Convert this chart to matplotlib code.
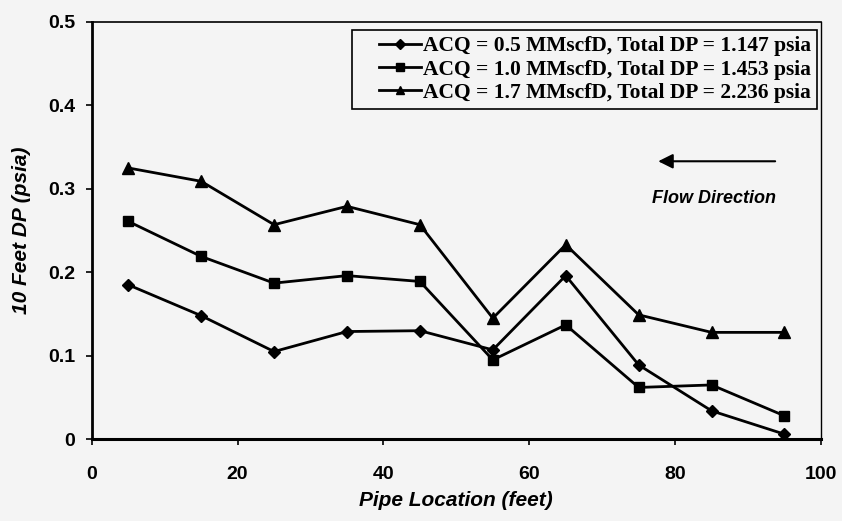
import numpy as np
import matplotlib
matplotlib.use('Agg')
import matplotlib.pyplot as plt
from matplotlib.legend_handler import HandlerLine2D

# pipe locations (feet) and 10 ft pressure drops (psia)
location = [5, 15, 25, 35, 45, 55, 65, 75, 85, 95]
dp_05 = [0.185, 0.148, 0.105, 0.129, 0.130, 0.107, 0.196, 0.089, 0.034, 0.006]
dp_10 = [0.261, 0.219, 0.187, 0.196, 0.189, 0.095, 0.137, 0.062, 0.065, 0.028]
dp_17 = [0.325, 0.309, 0.257, 0.279, 0.257, 0.145, 0.233, 0.149, 0.128, 0.128]
labels = ['ACQ = 0.5 MMscfD, Total DP = 1.147 psia',
          'ACQ = 1.0 MMscfD, Total DP = 1.453 psia',
          'ACQ = 1.7 MMscfD, Total DP = 2.236 psia']


class ShiftedLine(HandlerLine2D):
    # legend sample drawn in the right part of the handle box, leaving a gap on the left
    def get_xdata(self, legend, xdescent, ydescent, width, height, fontsize):
        x0 = -xdescent + width * 0.34
        x1 = -xdescent + width
        return np.array([x0, x1]), np.array([(x0 + x1) / 2])


bg = '#f4f4f4'
fig = plt.figure(figsize=(8.42, 5.21), dpi=100, facecolor=bg)
ax = fig.add_axes([0.109, 0.157, 0.866, 0.801], facecolor=bg)

l1, = ax.plot(location, dp_05, color='black', lw=2, marker='D', ms=6, label=labels[0])
l2, = ax.plot(location, dp_10, color='black', lw=2, marker='s', ms=7, label=labels[1])
l3, = ax.plot(location, dp_17, color='black', lw=2, marker='^', ms=8, label=labels[2])

ax.set_xlim(0, 100)
ax.set_ylim(0, 0.5)
ax.set_xticks([0, 20, 40, 60, 80, 100])
ax.set_yticks([0, 0.1, 0.2, 0.3, 0.4, 0.5])
ax.set_yticklabels(['0', '0.1', '0.2', '0.3', '0.4', '0.5'])
ax.tick_params(direction='out', length=4, width=1.2, labelsize=14)
ax.tick_params(axis='x', pad=15)
ax.tick_params(axis='y', pad=8)
for t in ax.get_xticklabels() + ax.get_yticklabels():
    t.set_fontweight('bold')
    t.set_family('Liberation Sans')

ax.spines['left'].set_linewidth(2)
ax.spines['bottom'].set_linewidth(2.2)
ax.spines['top'].set_linewidth(1.2)
ax.spines['right'].set_linewidth(1.0)

ax.set_xlabel('Pipe Location (feet)', fontsize=15, fontweight='bold',
              style='italic', family='Liberation Sans', labelpad=6)
ax.set_ylabel('10 Feet DP (psia)', fontsize=15, fontweight='bold',
              style='italic', family='Liberation Sans', labelpad=12)

hm = {l: ShiftedLine() for l in (l1, l2, l3)}
leg = ax.legend(loc='upper right', bbox_to_anchor=(0.995, 0.981), fancybox=False,
                edgecolor='black', facecolor=bg, framealpha=1, handlelength=2.9,
                handletextpad=0.1, borderpad=0.3, labelspacing=0.15,
                markerscale=0.8, borderaxespad=0, handler_map=hm,
                prop={'family': 'Liberation Serif', 'weight': 'bold', 'size': 15.5})
leg.get_frame().set_linewidth(1.2)

# flow direction arrow
ax.annotate('', xy=(77.3, 0.333), xytext=(94.1, 0.333),
            arrowprops=dict(arrowstyle='-|>', color='black', lw=1.5,
                            mutation_scale=22))
ax.text(85.4, 0.288, 'Flow Direction', fontsize=13, fontweight='bold',
        style='italic', family='Liberation Sans', ha='center', va='center')

fig.savefig('out.png', dpi=100, facecolor=bg)
